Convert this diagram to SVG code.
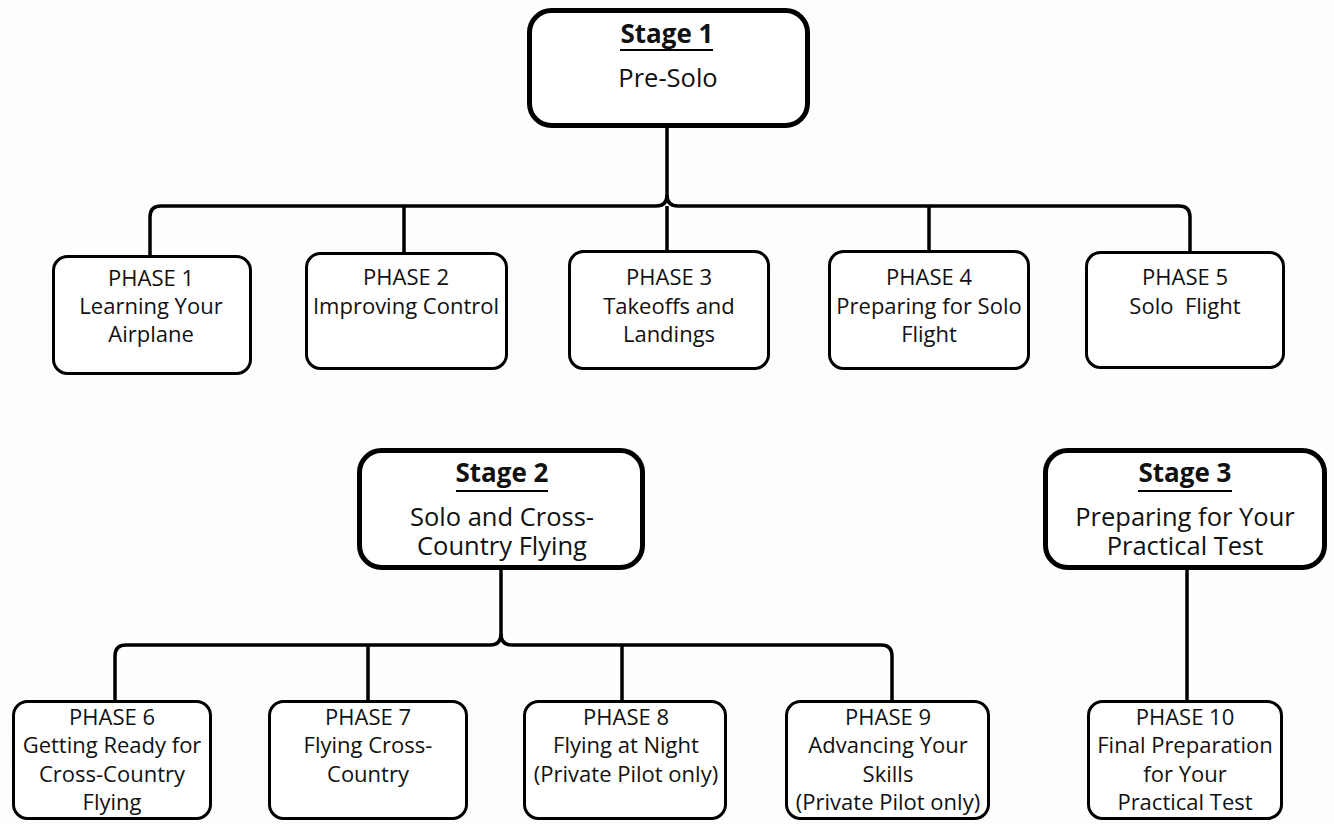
<svg xmlns="http://www.w3.org/2000/svg" width="1334" height="824" viewBox="0 0 1334 824">
<style>
.stage{fill:#fff;stroke:#000;stroke-width:5}
.phase{fill:#fff;stroke:#000;stroke-width:3}
.conn{fill:none;stroke:#000;stroke-width:3.5}
.ul{stroke:#000;stroke-width:2.2}
text{font-family:"Open Sans","Noto Sans","Liberation Sans",sans-serif;fill:#111;text-anchor:middle}
.t{font-size:26px;font-weight:bold}
.s{font-size:25.5px}
.p{font-size:22px;white-space:pre}
</style>
<rect width="1334" height="824" fill="#fdfdfd"/>
<g id="connectors">
<path class="conn" d="M667,127 V195 Q667,206 656,206 H161 Q150,206 150,217 V256"/>
<path class="conn" d="M667,195 Q667,206 678,206 H1179 Q1190,206 1190,217 V252"/>
<path class="conn" d="M667,206 V251 M404,206 V253 M929,206 V251"/>
<path class="conn" d="M501,570 V634 Q501,645 490,645 H126 Q115,645 115,656 V701"/>
<path class="conn" d="M501,634 Q501,645 512,645 H881 Q892,645 892,656 V701"/>
<path class="conn" d="M368,645 V701 M622,645 V701"/>
<path class="conn" d="M1187,568 V701"/>
</g>
<g id="stage1">
<rect class="stage" x="529.5" y="10.5" width="278" height="115" rx="22"/>
<text class="t" x="667" y="43">Stage 1</text>
<line class="ul" x1="620" y1="50" x2="713" y2="50"/>
<text class="s" x="668" y="87">Pre-Solo</text>
</g>
<g id="phase1">
<rect class="phase" x="53.5" y="256.5" width="197" height="117" rx="14"/>
<text class="p" x="151" y="286">PHASE 1</text>
<text class="p" x="151" y="314">Learning Your</text>
<text class="p" x="151" y="342">Airplane</text>
</g>
<g id="phase2">
<rect class="phase" x="306.5" y="253.5" width="200" height="115" rx="14"/>
<text class="p" x="406" y="285">PHASE 2</text>
<text class="p" x="406" y="313.5">Improving Control</text>
</g>
<g id="phase3">
<rect class="phase" x="569.5" y="251.5" width="199" height="117" rx="14"/>
<text class="p" x="669" y="285">PHASE 3</text>
<text class="p" x="669" y="314">Takeoffs and</text>
<text class="p" x="669" y="342">Landings</text>
</g>
<g id="phase4">
<rect class="phase" x="829.5" y="251.5" width="199" height="117" rx="14"/>
<text class="p" x="929" y="285">PHASE 4</text>
<text class="p" x="929" y="314">Preparing for Solo</text>
<text class="p" x="929" y="342">Flight</text>
</g>
<g id="phase5">
<rect class="phase" x="1086.5" y="252.5" width="197" height="115" rx="14"/>
<text class="p" x="1185" y="285">PHASE 5</text>
<text class="p" x="1185" y="314">Solo  Flight</text>
</g>
<g id="stage2">
<rect class="stage" x="359.5" y="450.5" width="283" height="117" rx="22"/>
<text class="t" x="502" y="482">Stage 2</text>
<line class="ul" x1="456" y1="491" x2="548" y2="491"/>
<text class="s" x="502" y="526">Solo and Cross-</text>
<text class="s" x="502" y="555">Country Flying</text>
</g>
<g id="stage3">
<rect class="stage" x="1045.5" y="450.5" width="279" height="117" rx="22"/>
<text class="t" x="1185" y="482">Stage 3</text>
<line class="ul" x1="1138" y1="491" x2="1232" y2="491"/>
<text class="s" x="1185" y="526">Preparing for Your</text>
<text class="s" x="1185" y="555">Practical Test</text>
</g>
<g id="phase6">
<rect class="phase" x="13.5" y="701.5" width="197" height="117" rx="14"/>
<text class="p" x="112" y="725">PHASE 6</text>
<text class="p" x="112" y="753">Getting Ready for</text>
<text class="p" x="112" y="782">Cross-Country</text>
<text class="p" x="112" y="810">Flying</text>
</g>
<g id="phase7">
<rect class="phase" x="269.5" y="701.5" width="197" height="117" rx="14"/>
<text class="p" x="368" y="725">PHASE 7</text>
<text class="p" x="368" y="753">Flying Cross-</text>
<text class="p" x="368" y="782">Country</text>
</g>
<g id="phase8">
<rect class="phase" x="524.5" y="701.5" width="201" height="117" rx="14"/>
<text class="p" x="626" y="725">PHASE 8</text>
<text class="p" x="626" y="753">Flying at Night</text>
<text class="p" x="626" y="782">(Private Pilot only)</text>
</g>
<g id="phase9">
<rect class="phase" x="786.5" y="701.5" width="202" height="117" rx="14"/>
<text class="p" x="888" y="725">PHASE 9</text>
<text class="p" x="888" y="753">Advancing Your</text>
<text class="p" x="888" y="782">Skills</text>
<text class="p" x="888" y="810">(Private Pilot only)</text>
</g>
<g id="phase10">
<rect class="phase" x="1088.5" y="701.5" width="193" height="117" rx="14"/>
<text class="p" x="1185" y="725">PHASE 10</text>
<text class="p" x="1185" y="753">Final Preparation</text>
<text class="p" x="1185" y="782">for Your</text>
<text class="p" x="1185" y="810">Practical Test</text>
</g>
</svg>
